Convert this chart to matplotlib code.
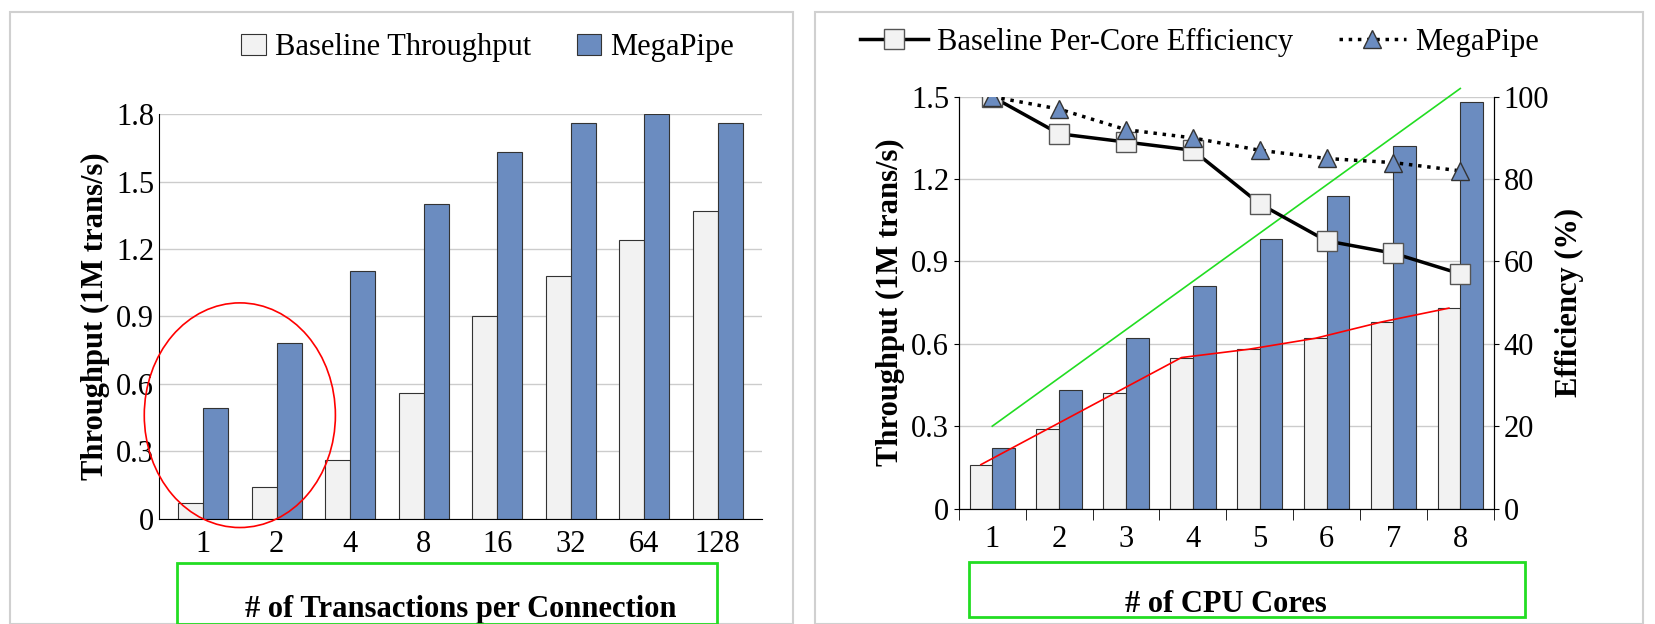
import matplotlib
matplotlib.use('agg')
import matplotlib.pyplot as plt
from matplotlib.patches import Rectangle, Ellipse
import numpy as np

plt.rcParams['font.family'] = ['Liberation Serif', 'DejaVu Serif']

# left panel data
txn_labels = ['1', '2', '4', '8', '16', '32', '64', '128']
txn_base = [0.07, 0.14, 0.26, 0.56, 0.90, 1.08, 1.24, 1.37]
txn_mega = [0.49, 0.78, 1.10, 1.40, 1.63, 1.76, 1.80, 1.76]

# right panel data
cores = [1, 2, 3, 4, 5, 6, 7, 8]
core_base = [0.16, 0.29, 0.42, 0.55, 0.58, 0.62, 0.68, 0.73]
core_mega = [0.22, 0.43, 0.62, 0.81, 0.98, 1.14, 1.32, 1.48]
eff_base = [100, 91, 89, 87, 74, 65, 62, 57]
eff_mega = [100, 97, 92, 90, 87, 85, 84, 82]

WHITE = '#f2f2f2'
BLUE = '#6b8cc0'
FS = 22
w = 0.34

fig = plt.figure(figsize=(16.56, 6.24), dpi=100)
fig.patch.set_facecolor('white')
# panel cards
for x0, x1 in [(0.006, 0.479), (0.492, 0.992)]:
    fig.patches.append(Rectangle((x0, 0.0), x1 - x0, 0.98, transform=fig.transFigure,
                                 facecolor='white', edgecolor='#d0d0d0', lw=1.5, zorder=-1))

# ---- left ----
ax = fig.add_axes([0.096, 0.169, 0.364, 0.648])
x = np.arange(len(txn_labels))
ax.bar(x - w / 2, txn_base, w, color=WHITE, edgecolor='#333333', lw=0.8, label='Baseline Throughput', zorder=2)
ax.bar(x + w / 2, txn_mega, w, color=BLUE, edgecolor='#333333', lw=0.8, label='MegaPipe', zorder=2)
ax.set_ylim(0, 1.8)
ax.set_xlim(-0.6, len(txn_labels) - 0.4)
ax.set_yticks([0, 0.3, 0.6, 0.9, 1.2, 1.5, 1.8])
ax.set_yticklabels(['0', '0.3', '0.6', '0.9', '1.2', '1.5', '1.8'])
ax.set_xticks(x)
ax.set_xticklabels(txn_labels)
ax.grid(axis='y', color='#cccccc', lw=1, zorder=0)
for s in ['top', 'right']:
    ax.spines[s].set_visible(False)
ax.tick_params(labelsize=FS, length=0)
ax.tick_params(axis='x', pad=8)
ax.set_ylabel('Throughput (1M trans/s)', fontsize=FS, fontweight='bold')
ax.set_xlabel('# of Transactions per Connection', fontsize=FS, fontweight='bold', labelpad=26)
ax.legend(loc='lower right', bbox_to_anchor=(1.0, 1.06), ncol=2, frameon=False, fontsize=FS,
          handlelength=0.8, handletextpad=0.3, columnspacing=1.5)
ax.add_patch(Ellipse((0.5, 0.46), 2.6, 1.0, fill=False, edgecolor='red', lw=1.2, clip_on=False, zorder=5))

# ---- right ----
ax2 = fig.add_axes([0.579, 0.185, 0.323, 0.66])
x = np.arange(len(cores))
ax2.bar(x - w / 2, core_base, w, color=WHITE, edgecolor='#333333', lw=0.8, zorder=2)
ax2.bar(x + w / 2, core_mega, w, color=BLUE, edgecolor='#333333', lw=0.8, zorder=2)
ax2.set_ylim(0, 1.5)
ax2.set_xlim(-0.5, len(cores) - 0.5)
ax2.set_yticks([0, 0.3, 0.6, 0.9, 1.2, 1.5])
ax2.set_yticklabels(['0', '0.3', '0.6', '0.9', '1.2', '1.5'])
ax2.set_xticks(x)
ax2.set_xticklabels([str(c) for c in cores])
ax2.set_xticks(np.arange(len(cores) + 1) - 0.5, minor=True)
ax2.tick_params(axis='x', which='minor', length=8, direction='out')
ax2.grid(axis='y', color='#cccccc', lw=1, zorder=0)
ax2.spines['top'].set_visible(False)
ax2.tick_params(labelsize=FS)
ax2.tick_params(axis='x', which='major', length=0, pad=12)
ax2.set_ylabel('Throughput (1M trans/s)', fontsize=FS, fontweight='bold')
ax2.set_xlabel('# of CPU Cores', fontsize=FS, fontweight='bold', labelpad=26)
# annotation lines
ax2.plot([x[0], x[-1]], [0.30, 1.53], color='#22dd22', lw=1.2, zorder=6, clip_on=False)
ax2.plot(x - w / 2, core_base, color='red', lw=1.2, zorder=6)

ax3 = ax2.twinx()
ax3.plot(x, eff_base, '-s', color='black', lw=2.5, ms=14, mfc=WHITE, mec='#555555',
         label='Baseline Per-Core Efficiency', zorder=4)
ax3.plot(x, eff_mega, ':^', color='black', lw=2.5, ms=13, mfc=BLUE, mec='#333333',
         label='MegaPipe', zorder=4)
ax3.set_ylim(0, 100)
ax3.set_yticks([0, 20, 40, 60, 80, 100])
ax3.spines['top'].set_visible(False)
ax3.tick_params(labelsize=FS)
ax3.set_ylabel('Efficiency (%)', fontsize=FS, fontweight='bold')
ax3.legend(loc='lower center', bbox_to_anchor=(0.45, 1.03), ncol=2, frameon=False, fontsize=FS,
           handlelength=2.2, handletextpad=0.3, columnspacing=1.5)

# green boxes around x labels
for bx in [(0.107, 0.0, 0.326, 0.097), (0.585, 0.012, 0.336, 0.088)]:
    fig.patches.append(Rectangle(bx[:2], bx[2], bx[3], transform=fig.transFigure,
                                 fill=False, edgecolor='#22dd22', lw=2))

fig.savefig('out.png', dpi=100)
